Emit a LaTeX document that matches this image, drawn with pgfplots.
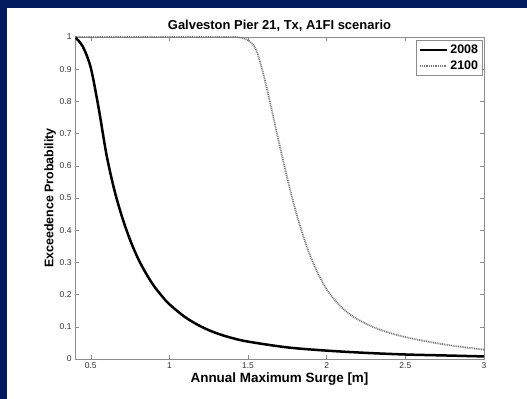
\documentclass[border=0pt]{standalone}
\usepackage{pgfplots}
\pgfplotsset{compat=1.18}
\usepackage{fontspec}
\setmainfont{Liberation Sans}
\definecolor{navy}{RGB}{2,26,94}
\begin{document}
\begin{tikzpicture}
\useasboundingbox (0,0) rectangle (527bp,399bp);
\fill[navy] (0,0) rectangle (527bp,399bp);
\fill[white] (7bp,0) rectangle (527bp,391bp);
\begin{axis}[
  at={(75bp,40bp)}, anchor=south west,
  scale only axis, width=409bp, height=322bp,
  xmin=0.4, xmax=3, ymin=0, ymax=1,
  xtick={0.5,1,1.5,2,2.5,3},
  xticklabels={0.5,1,1.5,2,2.5,3},
  ytick={0,0.1,0.2,0.3,0.4,0.5,0.6,0.7,0.8,0.9,1},
  yticklabels={0,0.1,0.2,0.3,0.4,0.5,0.6,0.7,0.8,0.9,1},
  tick align=inside, major tick length=4bp,
  axis line style={black!45},
  every tick/.style={black!45},
  tick label style={font=\fontsize{8.5}{10}\selectfont, text=black!80},
  /pgf/number format/assume math mode=true,
  title={Galveston Pier 21, Tx, A1FI scenario},
  title style={font=\bfseries\fontsize{13}{15}\selectfont, yshift=-4bp},
  xlabel={Annual Maximum Surge [m]},
  xlabel style={font=\bfseries\fontsize{13.5}{15}\selectfont, yshift=3bp},
  ylabel={Exceedence Probability},
  ylabel style={font=\bfseries\fontsize{12.5}{14}\selectfont, yshift=-3bp},
  legend style={at={(rel axis cs:0.997,0.99)}, anchor=north east, draw=black!45,
    font=\bfseries\fontsize{12.5}{14}\selectfont, inner xsep=2.5bp, inner ysep=2.5bp,
    row sep=1.5bp},
  legend cell align=left,
  legend image code/.code={\draw[#1] (0bp,0bp) -- (27bp,0bp);},
]
\addplot[black, line width=2.5bp, smooth] coordinates {
(0.40,1.0) (0.45,0.97) (0.50,0.905) (0.55,0.78) (0.60,0.635) (0.65,0.525)
(0.70,0.44) (0.75,0.37) (0.80,0.313) (0.85,0.267) (0.90,0.228) (0.95,0.197)
(1.00,0.170) (1.10,0.13) (1.20,0.101) (1.30,0.080) (1.40,0.065) (1.50,0.054)
(1.75,0.036) (2.0,0.026) (2.25,0.019) (2.5,0.014) (2.75,0.011) (3.0,0.008)
};
\addlegendentry{2008}
\addplot[black!55, line width=1.8bp, dash pattern=on 0.9bp off 0.9bp, smooth] coordinates {
(0.40,1.0) (0.8,1.0) (1.2,1.0) (1.40,1.0) (1.45,0.998) (1.50,0.99) (1.55,0.962)
(1.60,0.88) (1.65,0.775) (1.70,0.665) (1.75,0.56) (1.80,0.465) (1.85,0.383)
(1.90,0.315) (1.95,0.26) (2.00,0.216) (2.05,0.184) (2.10,0.158) (2.15,0.138)
(2.20,0.122) (2.30,0.098) (2.40,0.081) (2.50,0.068) (2.60,0.058) (2.75,0.045)
(2.90,0.035) (3.00,0.029)
};
\addlegendentry{2100}
\end{axis}
\end{tikzpicture}
\end{document}
